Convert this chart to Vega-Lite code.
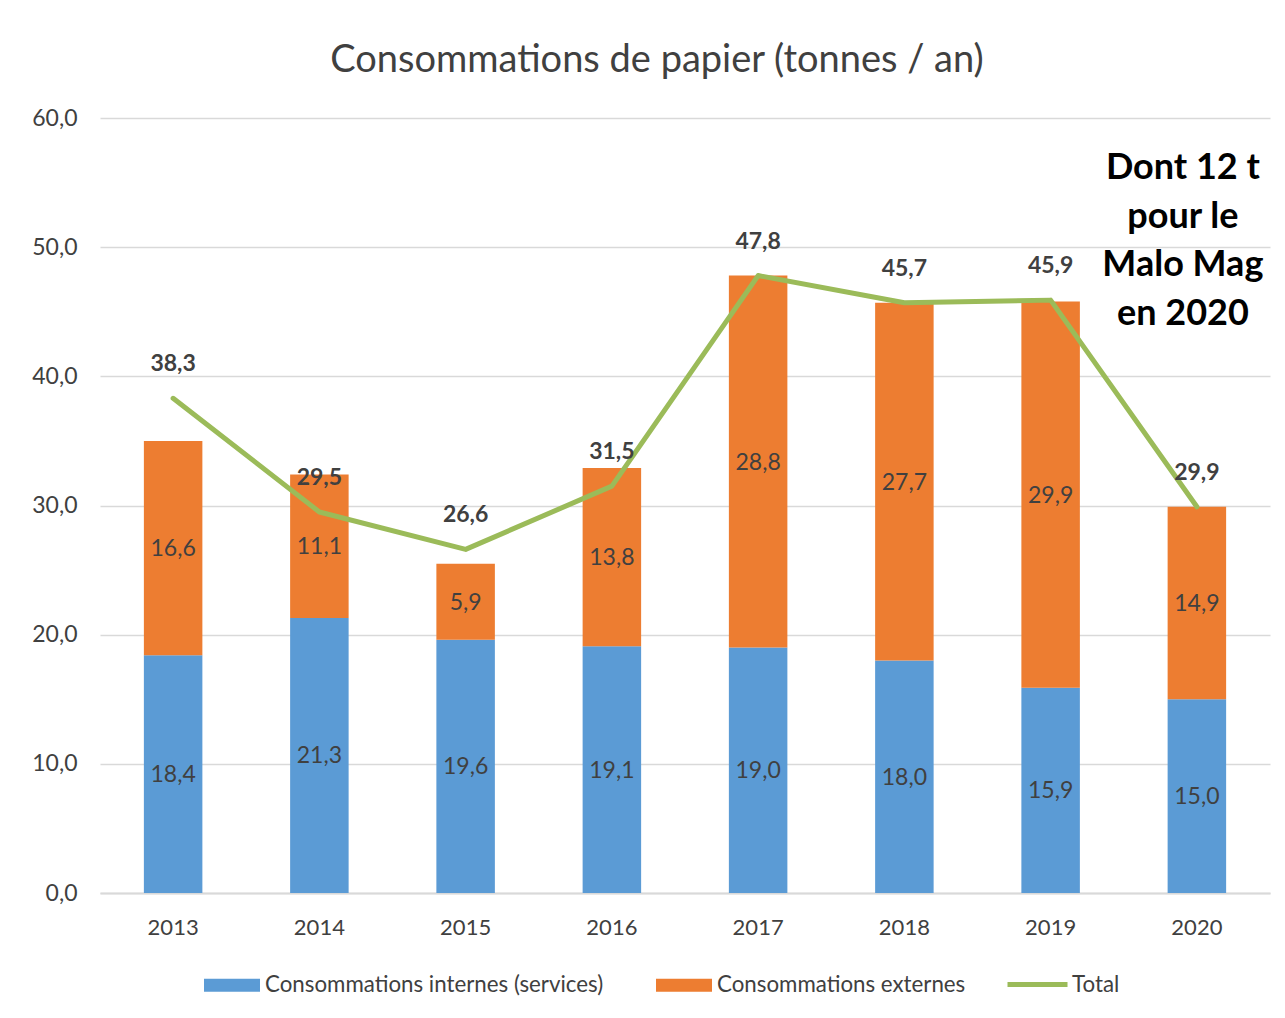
{
  "$schema": "https://vega.github.io/schema/vega-lite/v6.json",
  "width": 1170,
  "height": 775,
  "autosize": {"type": "none"},
  "padding": {"left": 100, "top": 118, "right": 15, "bottom": 125},
  "background": "white",
  "config": {
    "locale": {"number": {"decimal": ",", "thousands": " ", "grouping": [3], "currency": ["", " €"]}},
    "font": "Lato",
    "view": {"stroke": null},
    "legend": {"labelFont": "Lato", "labelFontSize": 22.3, "labelColor": "#404040", "padding": 0, "labelLimit": 0}
  },
  "title": {
    "text": "Consommations de papier (tonnes / an)",
    "font": "Lato",
    "fontSize": 38,
    "fontWeight": "normal",
    "color": "#404040",
    "anchor": "middle",
    "frame": "group",
    "baseline": "alphabetic",
    "offset": -3,
    "dx": -28
  },
  "datasets": {
    "bars": [
      {"year": "2013", "series": "Consommations internes (services)", "value": 18.4},
      {"year": "2013", "series": "Consommations externes", "value": 16.6},
      {"year": "2014", "series": "Consommations internes (services)", "value": 21.3},
      {"year": "2014", "series": "Consommations externes", "value": 11.1},
      {"year": "2015", "series": "Consommations internes (services)", "value": 19.6},
      {"year": "2015", "series": "Consommations externes", "value": 5.9},
      {"year": "2016", "series": "Consommations internes (services)", "value": 19.1},
      {"year": "2016", "series": "Consommations externes", "value": 13.8},
      {"year": "2017", "series": "Consommations internes (services)", "value": 19.0},
      {"year": "2017", "series": "Consommations externes", "value": 28.8},
      {"year": "2018", "series": "Consommations internes (services)", "value": 18.0},
      {"year": "2018", "series": "Consommations externes", "value": 27.7},
      {"year": "2019", "series": "Consommations internes (services)", "value": 15.9},
      {"year": "2019", "series": "Consommations externes", "value": 29.9},
      {"year": "2020", "series": "Consommations internes (services)", "value": 15.0},
      {"year": "2020", "series": "Consommations externes", "value": 14.9}
    ],
    "totals": [
      {"year": "2013", "total": 38.3},
      {"year": "2014", "total": 29.5},
      {"year": "2015", "total": 26.6},
      {"year": "2016", "total": 31.5},
      {"year": "2017", "total": 47.8},
      {"year": "2018", "total": 45.7},
      {"year": "2019", "total": 45.9},
      {"year": "2020", "total": 29.9}
    ]
  },
  "layer": [
    {
      "data": {"name": "bars"},
      "transform": [
        {"stack": "value", "groupby": ["year"], "sort": [{"field": "series", "order": "descending"}], "as": ["v0", "v1"]}
      ],
      "mark": {"type": "bar"},
      "encoding": {
        "x": {
          "field": "year", "type": "ordinal", "title": null,
          "scale": {"paddingInner": 0.6, "paddingOuter": 0.3},
          "axis": {"labelAngle": 0, "labelFontSize": 22, "labelColor": "#404040", "labelFont": "Lato", "ticks": false, "domainColor": "#d9d9d9", "domainWidth": 2, "labelPadding": 24}
        },
        "y": {
          "field": "v1", "type": "quantitative", "title": null,
          "scale": {"domain": [0, 60], "nice": false},
          "axis": {"values": [0, 10, 20, 30, 40, 50, 60], "format": ".1f", "domain": false, "ticks": false, "labelPadding": 23, "labelFontSize": 23, "labelFont": "Lato", "labelColor": "#404040", "gridColor": "#d9d9d9", "gridWidth": 1.5}
        },
        "y2": {"field": "v0"},
        "fill": {
          "field": "series", "type": "nominal",
          "scale": {"domain": ["Consommations internes (services)", "Consommations externes"], "range": ["#5B9BD5", "#ED7D31"]},
          "legend": {"title": null, "orient": "none", "direction": "horizontal", "legendX": 104, "legendY": 839, "symbolType": "M-1,-0.232H1V0.232H-1Z", "symbolSize": 3136, "symbolStrokeWidth": 0, "labelOffset": 5, "columnPadding": 52}
        }
      }
    },
    {
      "data": {"name": "bars"},
      "transform": [
        {"stack": "value", "groupby": ["year"], "sort": [{"field": "series", "order": "descending"}], "as": ["v0", "v1"]},
        {"calculate": "(datum.v0 + datum.v1) / 2", "as": "mid"}
      ],
      "mark": {"type": "text", "fontSize": 23, "font": "Lato", "color": "#404040", "baseline": "middle", "dy": 1},
      "encoding": {
        "x": {"field": "year", "type": "ordinal"},
        "y": {"field": "mid", "type": "quantitative"},
        "text": {"field": "value", "type": "quantitative", "format": ".1f"}
      }
    },
    {
      "data": {"name": "totals"},
      "mark": {"type": "line", "strokeWidth": 5, "strokeJoin": "round", "strokeCap": "round"},
      "encoding": {
        "x": {"field": "year", "type": "ordinal"},
        "y": {"field": "total", "type": "quantitative"},
        "stroke": {
          "datum": "Total",
          "scale": {"domain": ["Total"], "range": ["#9BBB59"]},
          "legend": {"title": null, "orient": "none", "direction": "horizontal", "legendX": 905, "legendY": 834, "symbolType": "stroke", "symbolSize": 3600, "symbolStrokeWidth": 5, "labelOffset": 2}
        }
      }
    },
    {
      "data": {"name": "totals"},
      "mark": {"type": "text", "fontSize": 23, "font": "Lato", "fontWeight": "bold", "color": "#404040", "baseline": "middle", "dy": -34},
      "encoding": {
        "x": {"field": "year", "type": "ordinal"},
        "y": {"field": "total", "type": "quantitative"},
        "text": {"field": "total", "type": "quantitative", "format": ".1f"}
      }
    },
    {
      "data": {"values": [{"year": "2020", "note": ["Dont 12 t", "pour le", "Malo Mag", "en 2020"]}]},
      "mark": {"type": "text", "fontSize": 36, "font": "Lato", "fontWeight": "bold", "color": "#000000", "baseline": "middle", "align": "center", "lineHeight": 48.5, "dx": -14},
      "encoding": {
        "x": {"field": "year", "type": "ordinal"},
        "y": {"datum": 56.1},
        "text": {"field": "note"}
      }
    }
  ]
}
